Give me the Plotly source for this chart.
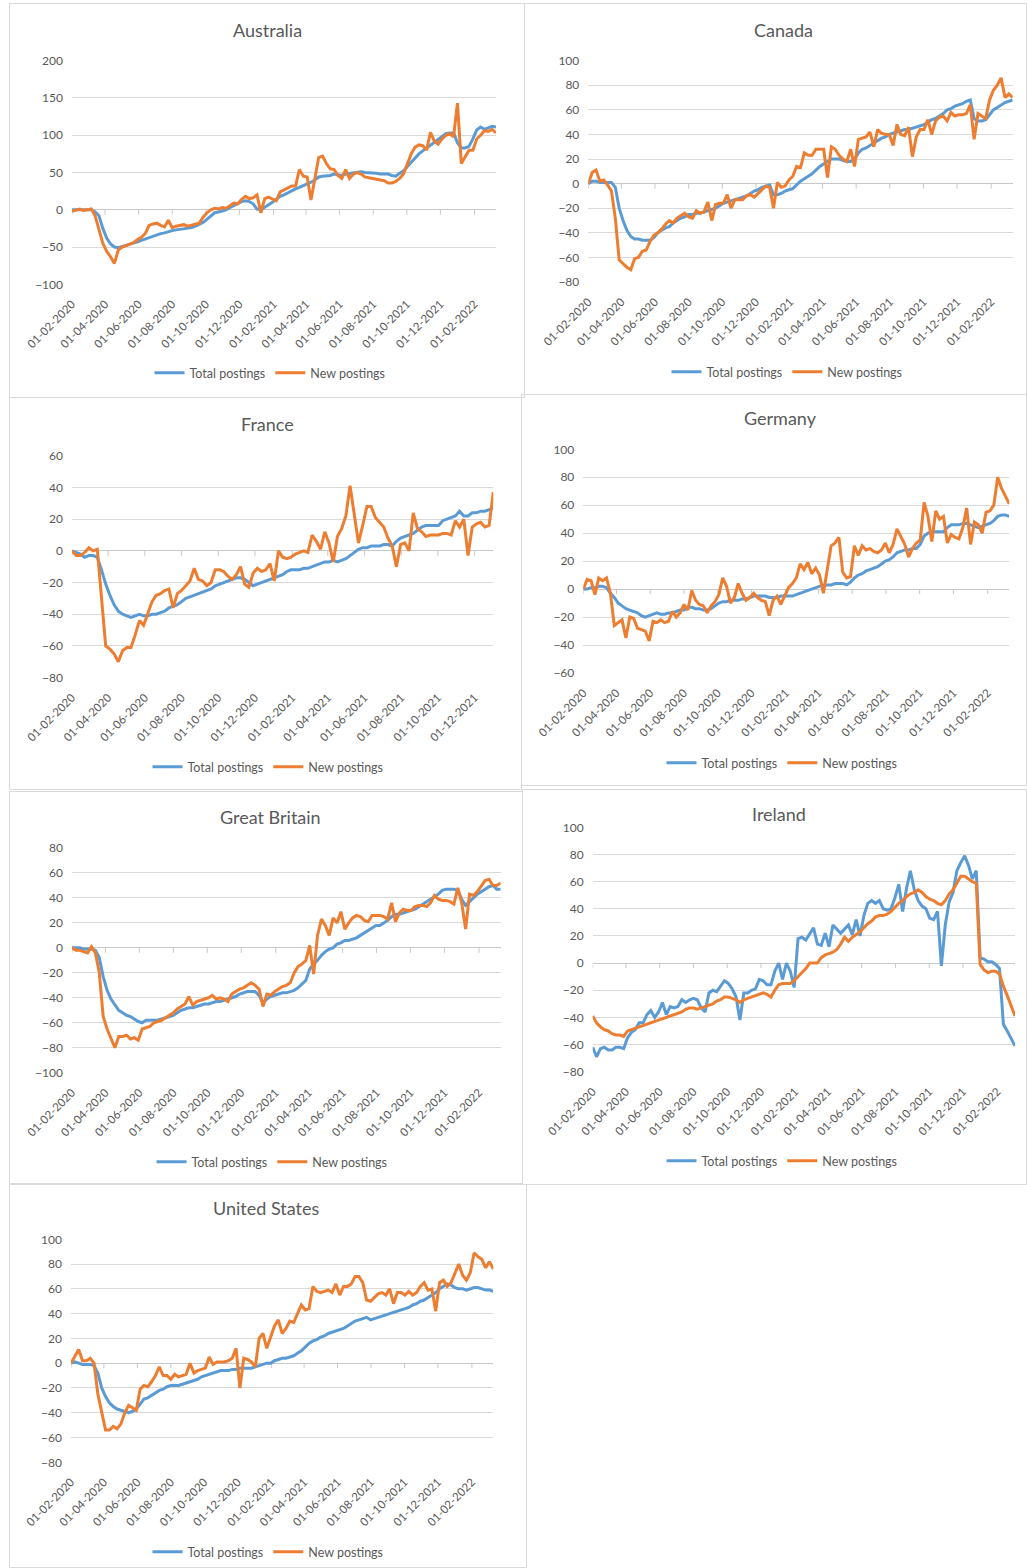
import pandas as pd
import plotly.graph_objects as go

START = "2020-02-01"
FREQ = "7D"
SERIES_NAMES = ["Total postings", "New postings"]

australia_total = [
    0, 0, 0, -1, 0, 0, -3, -8, -25, -38,
    -46, -50, -51, -50, -48, -46, -45, -43, -41, -39,
    -37, -36, -34, -32, -31, -29, -28, -27, -26, -26,
    -25, -24, -22, -20, -17, -13, -8, -4, -3, -2,
    0, 3, 6, 9, 11, 12, 11, 8, 1, 0,
    3, 6, 10, 14, 18, 20, 23, 25, 28, 30,
    32, 34, 37, 40, 44, 45, 45, 46, 48, 47,
    46, 48, 49, 49, 50, 51, 50, 50, 50, 49,
    48, 48, 48, 46, 45, 49, 52, 58, 64, 70,
    75, 79, 83, 87, 90, 95, 99, 102, 103, 103,
    90, 83, 83, 85, 95, 107, 111, 108, 110, 112, 111]
australia_new = [
    -2, 0, 1, -1, 0, 1, -8, -28, -45, -56,
    -63, -72, -54, -50, -48, -46, -44, -40, -37, -32,
    -21, -19, -18, -21, -23, -14, -24, -22, -21, -20,
    -22, -21, -19, -18, -10, -4, 0, 2, 1, 3,
    2, 6, 9, 8, 14, 18, 15, 16, 20, -4,
    15, 17, 14, 12, 24, 27, 30, 32, 32, 54,
    45, 44, 13, 44, 70, 72, 62, 55, 54, 46,
    42, 54, 42, 48, 50, 48, 44, 43, 42, 42,
    40, 39, 36, 36, 38, 42, 48, 62, 75, 84,
    87, 86, 80, 104, 92, 88, 95, 100, 102, 98,
    143, 62, 72, 80, 80, 95, 100, 106, 105, 108, 103]

canada_total = [
    0, 2, 2, 1, 1, 1, 1, -3, -20, -30,
    -38, -43, -45, -45, -46, -46, -46, -44, -40, -38,
    -36, -35, -32, -30, -28, -27, -25, -25, -24, -24,
    -23, -22, -21, -20, -18, -16, -15, -14, -13, -12,
    -11, -10, -8, -6, -5, -3, -2, -1, -9, -9,
    -8, -6, -5, -4, -1, 2, 4, 6, 8, 11,
    14, 16, 18, 20, 20, 20, 19, 18, 18, 20,
    25, 28, 29, 31, 33, 35, 37, 38, 40, 41,
    42, 43, 44, 44, 45, 46, 47, 48, 50, 52,
    53, 55, 57, 60, 61, 63, 64, 65, 67, 68,
    53, 51, 51, 52, 56, 60, 62, 64, 66, 67, 68]
canada_new = [
    0, 9, 11, 2, 3, -1, -6, -28, -62, -65,
    -68, -70, -61, -60, -55, -54, -47, -42, -40, -37,
    -33, -30, -32, -28, -26, -24, -27, -28, -22, -24,
    -23, -15, -30, -17, -16, -16, -9, -20, -13, -13,
    -13, -10, -9, -11, -8, -5, -2, -3, -20, 1,
    -3, -2, 3, 6, 14, 13, 25, 23, 23, 28,
    28, 28, 5, 30, 28, 23, 20, 18, 28, 14,
    36, 37, 38, 42, 30, 44, 41, 40, 40, 31,
    48, 40, 39, 46, 22, 38, 44, 44, 52, 40,
    51, 54, 55, 51, 58, 55, 56, 56, 57, 64,
    36, 57, 55, 53, 68, 76, 80, 86, 70, 73, 70]

france_total = [
    0, -1, -2, -4, -3, -3, -4, -12, -21, -28,
    -34, -38, -40, -41, -42, -41, -40, -41, -41, -40,
    -40, -39, -38, -36, -35, -34, -32, -30, -29, -28,
    -27, -26, -25, -24, -22, -21, -20, -19, -18, -17,
    -17, -18, -20, -22, -21, -20, -19, -18, -17, -16,
    -15, -13, -12, -12, -12, -11, -11, -10, -9, -8,
    -7, -7, -6, -7, -6, -5, -3, -1, 1, 2,
    2, 3, 3, 3, 4, 4, 3, 6, 8, 9,
    10, 11, 13, 15, 16, 16, 16, 16, 19, 20,
    21, 22, 25, 22, 22, 24, 24, 25, 25, 26,
    27]
france_new = [
    0, -3, -3, -1, 2, 0, 1, -28, -60, -62,
    -65, -70, -63, -61, -61, -53, -44, -47, -40, -32,
    -28, -27, -25, -24, -36, -27, -25, -22, -19, -11,
    -18, -19, -22, -20, -12, -12, -13, -16, -18, -15,
    -10, -21, -23, -14, -11, -13, -12, -8, -19, 0,
    -4, -5, -4, -2, -1, 0, -1, 10, 6, 1,
    12, 5, -7, 9, 14, 22, 41, 24, 5, 16,
    28, 28, 21, 18, 15, 8, 3, -10, 4, 5,
    0, 24, 14, 12, 9, 10, 10, 10, 11, 11,
    10, 19, 15, 20, -3, 15, 17, 18, 15, 16,
    37]

germany_total = [
    0, 0, 1, 1, 2, 2, 1, -3, -6, -10,
    -12, -14, -15, -16, -17, -19, -20, -19, -18, -17,
    -18, -18, -17, -17, -16, -15, -15, -13, -13, -14,
    -14, -15, -15, -14, -12, -10, -9, -9, -8, -8,
    -8, -7, -7, -6, -5, -5, -5, -5, -6, -6,
    -6, -5, -5, -5, -5, -4, -3, -2, -1, 0,
    1, 2, 3, 3, 3, 4, 4, 4, 3, 5,
    8, 10, 11, 13, 14, 15, 16, 18, 20, 21,
    23, 26, 27, 28, 28, 29, 29, 32, 38, 40,
    41, 41, 41, 41, 44, 46, 46, 46, 47, 47,
    46, 45, 44, 45, 46, 47, 49, 52, 53, 53, 52]
germany_new = [
    0, 7, 6, -4, 8, 6, 8, -3, -26, -24,
    -22, -35, -20, -21, -28, -29, -30, -37, -23, -24,
    -22, -24, -23, -16, -20, -17, -11, -15, -1, -8,
    -11, -12, -17, -12, -9, -4, 8, 2, -10, -6,
    4, -3, -8, -6, -3, -6, -8, -9, -19, -8,
    -5, -11, -5, 1, 4, 8, 18, 14, 19, 11,
    15, 10, -3, 15, 31, 33, 37, 12, 8, 9,
    31, 24, 31, 28, 29, 27, 26, 28, 33, 26,
    32, 43, 37, 32, 23, 29, 33, 35, 62, 52,
    34, 56, 50, 52, 33, 39, 37, 36, 44, 58,
    32, 48, 46, 40, 55, 56, 60, 80, 72, 66, 61]

britain_total = [
    0, 0, 0, -1, -1, -1, -2, -8, -23, -34,
    -41, -46, -50, -52, -54, -55, -57, -59, -60, -58,
    -58, -58, -58, -57, -56, -55, -54, -52, -50, -49,
    -48, -48, -47, -46, -45, -45, -44, -43, -43, -42,
    -41, -40, -39, -37, -36, -35, -35, -35, -38, -44,
    -41, -39, -38, -37, -36, -36, -35, -34, -32, -29,
    -26, -17, -13, -10, -6, -3, -1, 0, 3, 4,
    6, 6, 7, 8, 10, 12, 14, 16, 18, 18,
    20, 22, 25, 27, 27, 28, 29, 30, 31, 33,
    35, 37, 39, 41, 43, 46, 47, 47, 47, 46,
    39, 34, 37, 40, 43, 45, 47, 49, 50, 47, 47]
britain_new = [
    0, -2, -2, -3, -4, 1, -4, -20, -55, -65,
    -72, -80, -71, -71, -70, -73, -72, -74, -65, -64,
    -63, -60, -59, -58, -56, -54, -52, -49, -47, -45,
    -39, -46, -43, -42, -41, -40, -38, -41, -40, -41,
    -43, -37, -35, -33, -32, -30, -28, -30, -33, -47,
    -37, -38, -35, -33, -31, -30, -28, -20, -15, -13,
    -10, 2, -21, 10, 23, 18, 10, 24, 20, 29,
    15, 20, 24, 26, 25, 22, 21, 26, 26, 26,
    25, 23, 36, 21, 28, 31, 30, 30, 33, 34,
    34, 33, 36, 42, 39, 38, 38, 37, 35, 48,
    36, 15, 43, 42, 45, 50, 54, 55, 50, 50, 52]

ireland_total = [
    -62, -69, -63, -62, -64, -64, -62, -62, -63, -55,
    -51, -49, -44, -44, -38, -35, -40, -36, -29, -38,
    -32, -33, -32, -27, -29, -27, -26, -27, -33, -36,
    -22, -20, -21, -17, -13, -15, -19, -25, -42, -22,
    -22, -20, -19, -12, -13, -16, -16, -6, 0, -12,
    0, -6, -18, 18, 19, 17, 22, 26, 14, 13,
    22, 12, 28, 25, 22, 25, 28, 21, 32, 20,
    35, 44, 46, 44, 46, 40, 39, 40, 48, 58,
    38, 55, 68, 54, 46, 42, 40, 33, 32, 38,
    -2, 28, 45, 52, 68, 74, 79, 72, 62, 68,
    4, 3, 1, 1, -1, -4, -45, -50, -55, -61]
ireland_new = [
    -39, -44, -47, -49, -50, -52, -53, -53, -54, -50,
    -49, -48, -47, -46, -45, -44, -43, -42, -41, -40,
    -39, -38, -37, -36, -34, -33, -33, -34, -33, -32,
    -31, -30, -28, -27, -25, -25, -26, -27, -29, -27,
    -26, -25, -24, -23, -22, -23, -25, -20, -16, -15,
    -15, -15, -13, -10, -7, -4, 0, 0, 0, 4,
    6, 7, 8, 10, 14, 19, 16, 19, 21, 23,
    26, 29, 31, 34, 35, 35, 36, 38, 41, 44,
    46, 49, 51, 52, 54, 52, 49, 47, 46, 44,
    43, 46, 51, 54, 59, 64, 64, 62, 60, 59,
    -1, -5, -7, -6, -6, -8, -17, -24, -32, -39]

us_total = [
    0, 1, 0, -1, -1, -1, -2, -8, -20, -27,
    -32, -35, -37, -38, -39, -40, -39, -37, -33, -29,
    -28, -26, -24, -22, -21, -19, -18, -18, -18, -17,
    -16, -15, -14, -13, -11, -10, -9, -8, -7, -6,
    -6, -6, -5, -5, -4, -4, -4, -4, -3, -2,
    -1, 0, 0, 2, 3, 4, 4, 5, 6, 8,
    10, 13, 16, 18, 19, 21, 22, 24, 25, 26,
    27, 28, 30, 32, 34, 35, 36, 37, 35, 36,
    37, 38, 39, 40, 41, 42, 43, 44, 45, 47,
    48, 50, 51, 53, 55, 57, 60, 62, 64, 63,
    61, 60, 60, 59, 60, 61, 61, 60, 59, 59, 58]
us_new = [
    0, 6, 11, 2, 2, 4, 0, -25, -40, -54,
    -54, -51, -53, -49, -40, -34, -36, -38, -21, -18,
    -19, -15, -10, -3, -10, -10, -13, -9, -11, -10,
    -9, 0, -8, -6, -5, -4, 5, -1, 1, 1,
    1, 2, 4, 12, -20, 4, 3, 1, -3, 20,
    24, 12, 22, 30, 35, 24, 28, 34, 33, 40,
    47, 43, 44, 62, 58, 57, 58, 59, 57, 64,
    55, 62, 62, 64, 70, 70, 65, 51, 50, 53,
    56, 57, 55, 60, 48, 57, 57, 55, 58, 55,
    57, 62, 65, 59, 60, 42, 65, 67, 62, 65,
    72, 80, 71, 67, 73, 89, 86, 84, 77, 82, 76]

countries = ["Australia", "Canada", "France", "Germany", "Great Britain", "Ireland", "United States"]
totals = [australia_total, canada_total, france_total, germany_total, britain_total, ireland_total, us_total]
news = [australia_new, canada_new, france_new, germany_new, britain_new, ireland_new, us_new]
y_ranges = [(-100, 200), (-80, 100), (-80, 60), (-60, 100), (-100, 80), (-80, 100), (-80, 100)]
y_steps = [50, 20, 20, 20, 20, 20, 20]

# ---- layout (pixels) ----
W, H = 1027, 1568
FONT = "Lato"
TXT = "#595959"
GRID = "#d9d9d9"
ZERO = "#c8c8c8"
BORDER = "#d9d9d9"
BLUE = "#5B9BD5"
ORANGE = "#ED7D31"

plot_px = [  # left, right, top, bottom of plot area
    (72, 496, 60.7, 284.3),
    (588.3, 1012.7, 60.7, 282),
    (72, 493.3, 455.7, 677.7),
    (583.3, 1009.3, 449.3, 673),
    (72, 500.7, 848, 1072.7),
    (592.7, 1015, 827.3, 1071.7),
    (71, 493.3, 1239.3, 1462.3),
]
box_px = [
    (9.5, 3.5, 524.5, 397.5),
    (524.5, 3.5, 1026.5, 394.5),
    (9.5, 397.5, 521.5, 789.5),
    (521.5, 394.5, 1026.5, 785.5),
    (9.5, 791.5, 522.5, 1183.5),
    (522.5, 789.5, 1026.5, 1184.5),
    (9.5, 1184.5, 526.5, 1567.5),
]
title_px = [(267, 30), (783, 30), (267, 424), (780, 418), (270, 817), (779, 814), (266, 1208)]
legend_px = [(270, 373), (787, 372), (268, 767), (782, 763), (272, 1162), (782, 1161), (268, 1552)]

fig = go.Figure()
layout = dict(width=W, height=H, autosize=False, margin=dict(l=0, r=0, t=0, b=0, pad=0),
              paper_bgcolor="white", plot_bgcolor="white", hovermode=False,
              font=dict(family=FONT, color=TXT), showlegend=True)
shapes, annotations = [], []

for i in range(7):
    k = i + 1
    sfx = "" if k == 1 else str(k)
    dates = pd.date_range(START, periods=len(totals[i]), freq=FREQ)
    ds = dates.strftime("%Y-%m-%d")
    leg = "legend" if k == 1 else f"legend{k}"
    for name, vals, col in ((SERIES_NAMES[0], totals[i], BLUE), (SERIES_NAMES[1], news[i], ORANGE)):
        fig.add_trace(go.Scatter(x=ds, y=vals, mode="lines", name=name,
                                 line=dict(color=col, width=3), xaxis=f"x{sfx}", yaxis=f"y{sfx}",
                                 legend=leg, hoverinfo="skip"))
    l, r, t, b = plot_px[i]
    layout[f"xaxis{sfx}"] = dict(domain=[l / W, r / W], anchor=f"y{sfx}", type="date",
                                 range=[ds[0], ds[-1]], tick0=START, dtick="M2",
                                 tickformat="%d-%m-%Y", tickangle=-45, showgrid=False,
                                 zeroline=False, showline=False, ticks="", automargin=False,
                                 tickfont=dict(family=FONT, size=11.5, color=TXT),
                                 ticklabelstandoff=10, fixedrange=True)
    layout[f"yaxis{sfx}"] = dict(domain=[1 - b / H, 1 - t / H], anchor=f"x{sfx}",
                                 range=list(y_ranges[i]), dtick=y_steps[i], showgrid=True,
                                 gridcolor=GRID, gridwidth=1, zeroline=True, zerolinecolor=ZERO,
                                 zerolinewidth=1, showline=False, ticks="", automargin=False,
                                 tickfont=dict(family=FONT, size=12, color=TXT),
                                 ticklabelstandoff=8, fixedrange=True)
    lx, ly = legend_px[i]
    layout[leg] = dict(orientation="h", x=lx / W, y=1 - ly / H, xanchor="center", yanchor="middle",
                       font=dict(family=FONT, size=12.5, color=TXT), bgcolor="rgba(0,0,0,0)",
                       itemwidth=30, traceorder="normal")
    # tick marks on the zero line
    for d in pd.date_range(START, dates[-1], freq="2MS"):
        shapes.append(dict(type="line", xref=f"x{sfx}", yref=f"y{sfx}", x0=d.strftime("%Y-%m-%d"),
                           x1=d.strftime("%Y-%m-%d"), ysizemode="pixel", yanchor=0, y0=0, y1=-5,
                           line=dict(color=ZERO, width=1), layer="below"))
    bx0, by0, bx1, by1 = box_px[i]
    shapes.append(dict(type="rect", xref="paper", yref="paper", x0=bx0 / W, x1=bx1 / W,
                       y0=1 - by1 / H, y1=1 - by0 / H, line=dict(color=BORDER, width=1),
                       fillcolor="rgba(0,0,0,0)", layer="below"))
    tx, ty = title_px[i]
    annotations.append(dict(text=countries[i], xref="paper", yref="paper", x=tx / W, y=1 - ty / H,
                            xanchor="center", yanchor="middle", showarrow=False,
                            font=dict(family=FONT, size=18, color=TXT)))

layout["shapes"] = shapes
layout["annotations"] = annotations
fig.update_layout(**layout)
fig.write_html("out.html", config={"displayModeBar": False, "responsive": False},
               post_script="document.body.style.margin='0';")
